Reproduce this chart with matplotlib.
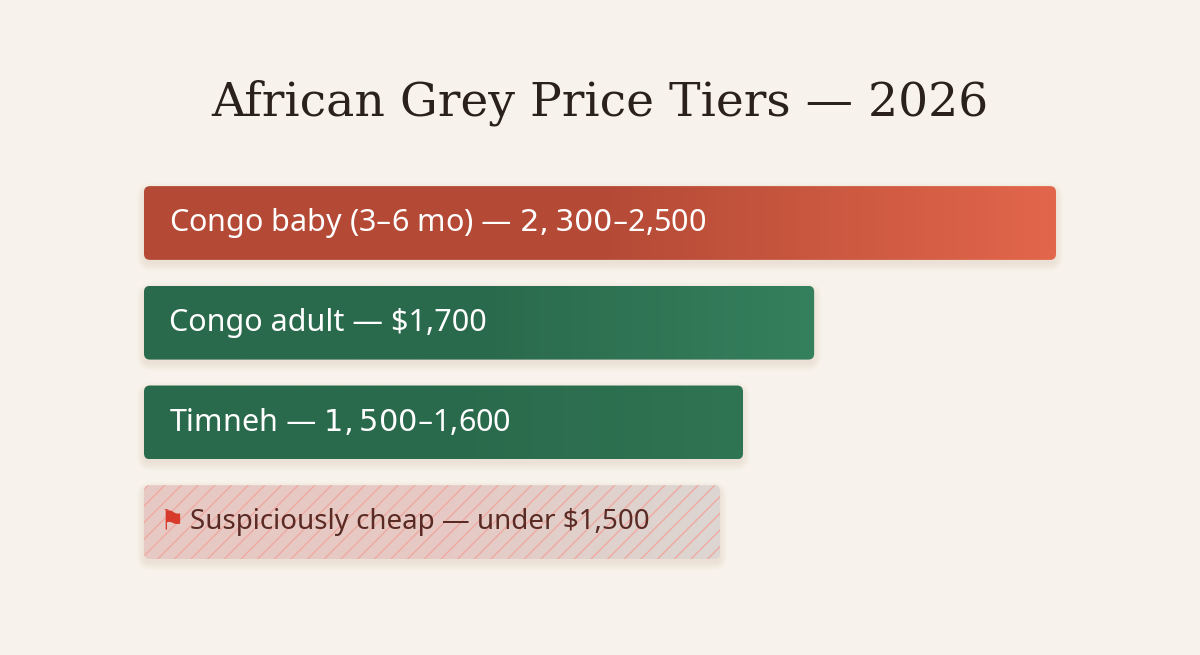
import numpy as np
import matplotlib
matplotlib.use('Agg')
import matplotlib.pyplot as plt
from matplotlib.patches import FancyBboxPatch
from matplotlib.colors import LinearSegmentedColormap

# Price tiers; bar lengths (scaled so the top bar = 2500)
labels = ["Congo baby (3\u20136 mo) \u2014 $2,300\u2013$2,500",
          "Congo adult \u2014 $1,700",
          "Timneh \u2014 $1,500\u2013$1,600",
          "Suspiciously cheap \u2014 under $1,500"]
bar_len = [2500, 1837, 1642, 1579]
colors_a = ["#b44a36", "#2a6a4c", "#2a6a4c", "#e7c9c4"]
colors_b = ["#e2664b", "#35805d", "#2f7453", "#dcd6d2"]
text_colors = ["white", "white", "white", "#5a2a24"]

bg = "#f7f3ec"
fig = plt.figure(figsize=(12, 6.55), dpi=100, facecolor=bg)
ax = fig.add_axes([0, 0, 1, 1])
ax.set_facecolor(bg)
k = 912 / 2500  # px per unit
ax.set_xlim(-144 / k, (1200 - 144) / k)
step = 99.7
ax.set_ylim((655 - 223) / step, -223 / step)
ax.axis('off')

h = 0.74
rs = 6 / k
asp = (1 / step) / (1 / k)
for i, (lab, v) in enumerate(zip(labels, bar_len)):
    # soft shadow
    for s in range(6):
        sh = FancyBboxPatch((-s * 1.5 / k, i - h / 2 + 0.04 - s * 1.5 / step),
                            v + s * 3 / k, h + s * 3 / step,
                            boxstyle=f"round,pad=0,rounding_size={rs + s * 2 / k}",
                            mutation_aspect=asp, fc="#c9a98a", ec="none",
                            alpha=0.035, zorder=1)
        ax.add_patch(sh)
    p = FancyBboxPatch((0, i - h / 2), v, h,
                       boxstyle=f"round,pad=0,rounding_size={rs}",
                       mutation_aspect=asp, fc="none", ec="none", zorder=2)
    ax.add_patch(p)
    cmap = LinearSegmentedColormap.from_list("g", [colors_a[i], colors_a[i], colors_b[i]])
    im = ax.imshow(np.linspace(0, 1, 256).reshape(1, -1), cmap=cmap, aspect='auto',
                   extent=(0, v, i + h / 2, i - h / 2), zorder=2)
    im.set_clip_path(p)
    if i == 3:
        hp = FancyBboxPatch((0, i - h / 2), v, h,
                            boxstyle=f"round,pad=0,rounding_size={rs}",
                            mutation_aspect=asp, fc="none", ec="#efa9a0",
                            hatch="//", lw=0, zorder=3)
        ax.add_patch(hp)
        ax.text(42, i, "\u2691", color="#d7392b", fontsize=20, va='center',
                ha='left', family='DejaVu Sans', zorder=4)
        ax.text(125, i, lab, color=text_colors[i], fontsize=20, va='center',
                ha='left', family='Noto Sans', zorder=4)
    else:
        ax.text(68, i, lab, color=text_colors[i], fontsize=22, va='center',
                ha='left', family='Noto Sans', zorder=4)

fig.text(0.5, 1 - 103 / 655, "African Grey Price Tiers \u2014 2026", ha='center',
         va='center', fontsize=34, family='DejaVu Serif', color="#2a201c")

fig.savefig("out.png", dpi=100, facecolor=bg)
